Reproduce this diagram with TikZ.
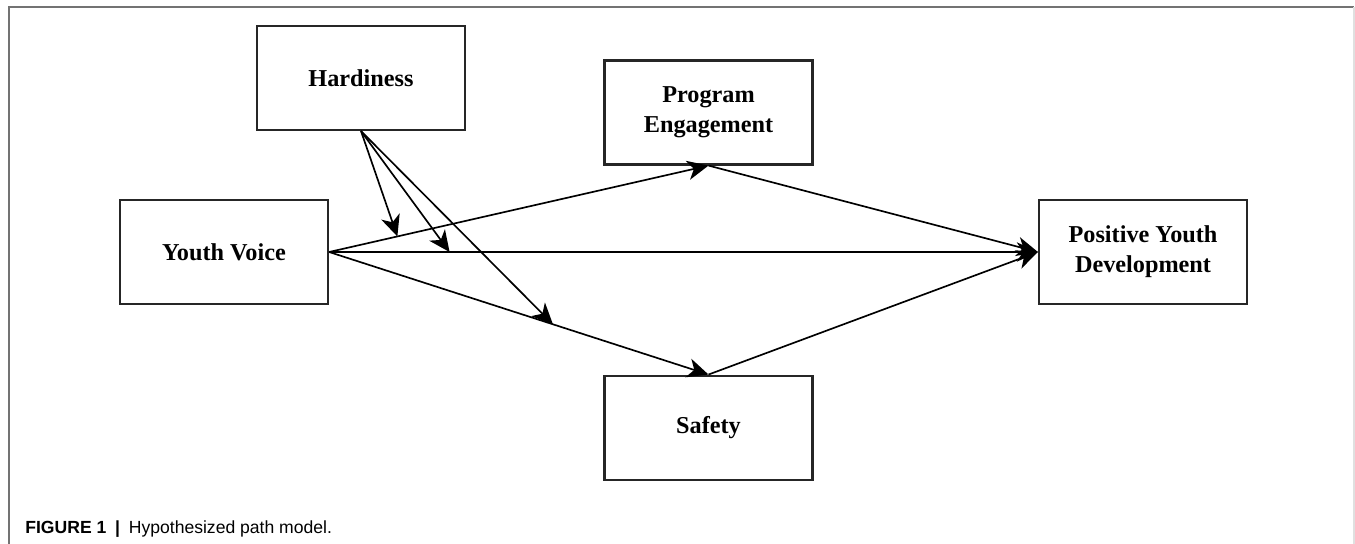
\documentclass[tikz,border=0pt]{standalone}
\usepackage{fontspec}
\setmainfont{Liberation Serif}
\newfontfamily\capfont{Liberation Sans}
\usetikzlibrary{arrows.meta,positioning}

\begin{document}
\begin{tikzpicture}[
        x=0.02cm, y=-0.02cm,
        font=\fontsize{13.8}{17}\selectfont\bfseries,
        >={Stealth[length=12pt,width=11pt,inset=3.5pt]},
        var/.style={rectangle,draw=black!85,line width=1.25pt,minimum width=4.16cm,minimum height=2.08cm,align=center,inner sep=2pt},
        arrow/.style={->,line width=0.95pt},
        frame/.style={line width=0.9pt,draw=black!55}
    ]
        \useasboundingbox (0,0) rectangle (1355,544);
        % outer frame
        \draw[frame] (9,544) -- (9,7) -- (1354,7);
        \draw[line width=0.9pt,black!12] (1354,7) -- (1354,544);

        \node[var] (voice) at (224,252) {Youth Voice};
        \node[var,right=14.18cm of voice] (pyd) {Positive Youth\\Development};
        \node[var] (engage) at (708.5,112.5) {Program\\Engagement};
        \node[var,below=4.18cm of engage] (safety) {Safety};
        \node[var] (hardy) at (361,78) {Hardiness};

        \draw[arrow] (voice.east) -- (engage.south);
        \draw[arrow] (voice.east) -- (pyd.west);
        \draw[arrow] (voice.east) -- (safety.north);
        \draw[arrow] (engage.south) -- (pyd.west);
        \draw[arrow] (safety.north) -- (pyd.west);

        % moderation points
        \path (voice.east) -- (engage.south) coordinate[pos=0.18] (m1);
        \path (voice.east) -- (pyd.west) coordinate[pos=0.17] (m2);
        \path (voice.east) -- (safety.north) coordinate[pos=0.59] (m3);
        \draw[arrow] (hardy.south) -- (m1);
        \draw[arrow] (hardy.south) -- (m2);
        \draw[arrow] (hardy.south) -- (m3);

        \node[anchor=base west,inner sep=0pt,font=\capfont\fontsize{10}{12}\selectfont] (caption) at (25,533)
            {\textbf{FIGURE 1}\enspace\textbf{|}\enspace Hypothesized path model.};
    \end{tikzpicture}
\end{document}
